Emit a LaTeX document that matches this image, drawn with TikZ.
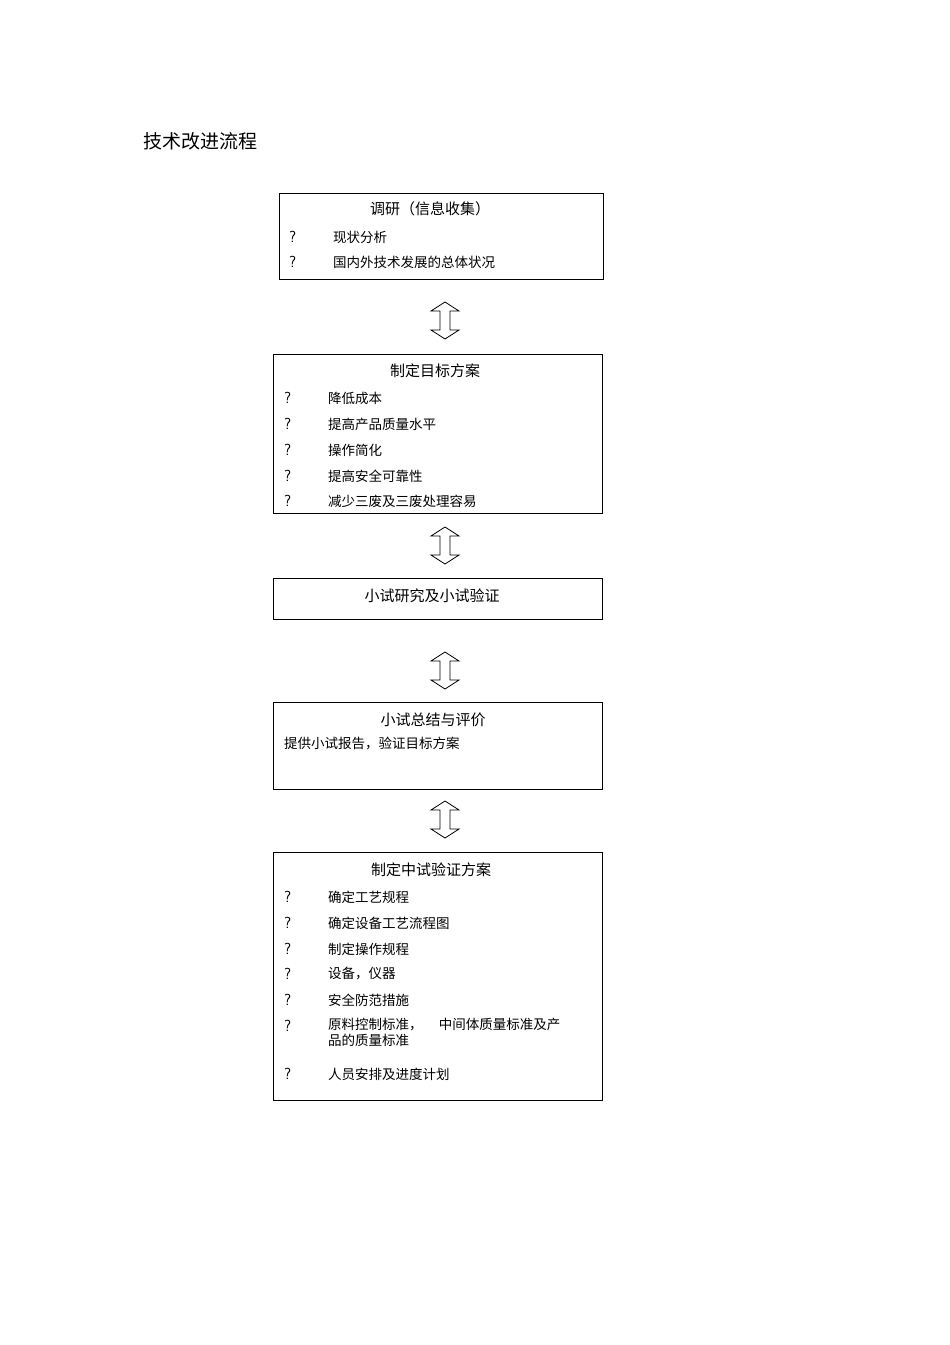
\documentclass[tikz,border=0pt]{standalone}
\usepackage{fontspec}
\setmainfont{Noto Sans CJK SC}
\begin{document}
\begin{tikzpicture}[x=1pt,y=-1pt,
 box/.style={draw,line width=1pt,inner sep=0pt},
 ttl/.style={font=\fontsize{15}{15}\selectfont,anchor=center},
 itm/.style={font=\fontsize{13.5}{16}\selectfont,anchor=west,inner sep=0pt,align=left},
 qm/.style={font=\fontsize{16}{16}\selectfont\sffamily,anchor=west,inner sep=0pt}]
\useasboundingbox (0,0) rectangle (950,1345);
\newcommand\dblarrow[3]{% x, ytop, ybottom
 \draw[line width=0.8pt,fill=white] (#1-5,#2+9) -- (#1-14,#2+9) -- (#1,#2) -- (#1+14,#2+9) -- (#1+5,#2+9)
 -- (#1+5,#3-9) -- (#1+14,#3-9) -- (#1,#3) -- (#1-14,#3-9) -- (#1-5,#3-9) -- cycle;}
\node[font=\fontsize{19}{19}\selectfont,anchor=west,inner sep=0pt] (title) at (143,141) {技术改进流程};
% box 1
\draw[box] (279,193) rectangle (603,279);
\node[ttl] (t1) at (430,209) {调研（信息收集）};
\node[qm] (q11) at (289,237) {?}; \node[itm] (i11) at (333,237) {现状分析};
\node[qm] (q12) at (289,262) {?}; \node[itm] (i12) at (333,262) {国内外技术发展的总体状况};
\dblarrow{445}{302}{339}
% box 2
\draw[box] (273,354) rectangle (602,513);
\node[ttl] (t2) at (435,371) {制定目标方案};
\foreach \y/\t in {398/降低成本,424/提高产品质量水平,450/操作简化,476/提高安全可靠性,501/减少三废及三废处理容易}{
 \node[qm] at (284,\y) {?}; \node[itm] at (328,\y) {\t};}
\dblarrow{445}{527}{564}
% box 3
\draw[box] (273,578) rectangle (602,619);
\node[ttl] (t3) at (432,596) {小试研究及小试验证};
\dblarrow{445}{652}{689}
% box 4
\draw[box] (273,702) rectangle (602,789);
\node[ttl] (t4) at (433,720) {小试总结与评价};
\node[itm] (i41) at (284,743) {提供小试报告，验证目标方案};
\dblarrow{445}{801}{838}
% box 5
\draw[box] (273,852) rectangle (602,1100);
\node[ttl] (t5) at (431,870) {制定中试验证方案};
\foreach \y/\t in {897/确定工艺规程,923/确定设备工艺流程图,949/制定操作规程,974/设备，仪器,1000/安全防范措施,1074/人员安排及进度计划}{
 \node[qm] at (284,\y) {?}; \node[itm] at (328,\y) {\t};}
\node[qm] at (284,1026) {?};
\node[itm,anchor=north west] at (328,1018) {原料控制标准，\hspace{1.2em}中间体质量标准及产\\品的质量标准};
\end{tikzpicture}
\end{document}
